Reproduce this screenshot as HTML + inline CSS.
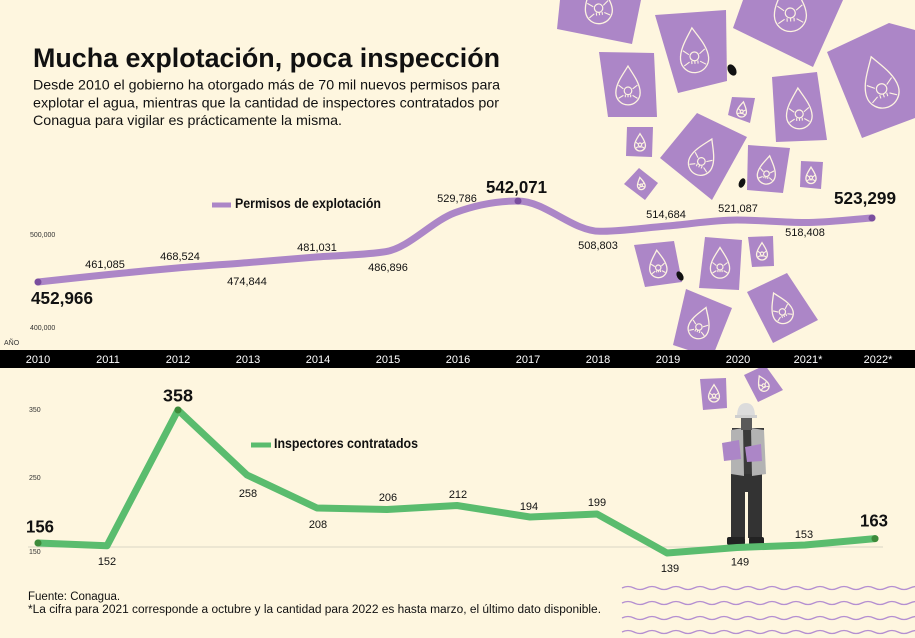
<!DOCTYPE html>
<html><head><meta charset="utf-8">
<style>
html,body{margin:0;padding:0;background:#fef6df;}
svg{display:block;}
text{font-family:"Liberation Sans",Arial,sans-serif;}
</style></head>
<body>
<svg width="915" height="638" viewBox="0 0 915 638" xmlns="http://www.w3.org/2000/svg">
<defs>
<g id="d" fill="none" stroke="#fdf3e0">
<path vector-effect="non-scaling-stroke" stroke-width="1.3" d="M0,-0.55 C0.12,-0.35 0.32,-0.1 0.32,0.15 A0.32,0.32 0 0 1 -0.32,0.15 C-0.32,-0.1 -0.12,-0.35 0,-0.55 Z"/>
<circle vector-effect="non-scaling-stroke" stroke-width="1.2" cx="0" cy="0.1" r="0.1"/>
<path vector-effect="non-scaling-stroke" stroke-width="1.1" d="M-0.07,0.2 L-0.07,0.27 M0,0.2 L0,0.27 M0.07,0.2 L0.07,0.27 M-0.25,-0.05 L-0.12,0.05 M0.25,-0.05 L0.12,0.05 M-0.25,0.3 L-0.12,0.22 M0.25,0.3 L0.12,0.22"/>
</g>
</defs>
<rect width="915" height="638" fill="#fef6df"/>

<!-- purple cards -->
<g fill="#ac86c7">
<polygon points="560,0 641,0 632,44 557,29"/>
<polygon points="655,15 726,10 727,81 678,93"/>
<polygon points="743,0 843,0 813,67 733,28"/>
<polygon points="827,52 889,23 915,30 915,118 862,138"/>
<polygon points="599,52 654,53 657,117 608,117"/>
<polygon points="772,77 817,72 827,140 776,142"/>
<polygon points="732,97 755,98 750,123 728,115"/>
<polygon points="627,127 653,127 652,157 626,156"/>
<polygon points="660,158 697,113 747,137 712,200"/>
<polygon points="748,145 790,148 783,193 747,190"/>
<polygon points="801,161 823,162 821,189 800,187"/>
<polygon points="624,184 639,168 658,183 645,200"/>
<polygon points="634,245 674,241 682,282 645,287"/>
<polygon points="705,237 742,240 739,290 699,288"/>
<polygon points="748,237 773,236 774,266 752,267"/>
<polygon points="686,289 732,308 712,358 673,345"/>
<polygon points="747,292 787,273 818,320 773,343"/>
<polygon points="700,379 726,378 727,408 703,410"/>
<polygon points="744,375 765,365 783,390 758,402"/>
</g>
<g>
<use href="#d" transform="translate(598,4) rotate(-8) scale(42)"/>
<use href="#d" transform="translate(694,52) rotate(-5) scale(44)"/>
<use href="#d" transform="translate(790,8) rotate(-3) scale(50)"/>
<use href="#d" transform="translate(880,84) rotate(-18) scale(52)"/>
<use href="#d" transform="translate(628,87) scale(38)"/>
<use href="#d" transform="translate(799,110) rotate(-3) scale(40)"/>
<use href="#d" transform="translate(742,110) rotate(10) scale(15)"/>
<use href="#d" transform="translate(640,143) scale(17)"/>
<use href="#d" transform="translate(703,158) rotate(25) scale(38)"/>
<use href="#d" transform="translate(767,171) rotate(10) scale(28)"/>
<use href="#d" transform="translate(811,176) scale(16)"/>
<use href="#d" transform="translate(641,184) rotate(-10) scale(12)"/>
<use href="#d" transform="translate(658,265) rotate(-5) scale(27)"/>
<use href="#d" transform="translate(720,264) scale(30)"/>
<use href="#d" transform="translate(762,252) scale(17)"/>
<use href="#d" transform="translate(700,324) rotate(20) scale(32)"/>
<use href="#d" transform="translate(781,309) rotate(-25) scale(32)"/>
<use href="#d" transform="translate(714,394) scale(17)"/>
<use href="#d" transform="translate(763,384) rotate(-25) scale(16)"/>
</g>
<g fill="#111">
<ellipse cx="732" cy="70" rx="4" ry="6" transform="rotate(-30 732 70)"/>
<ellipse cx="742" cy="183" rx="3" ry="5" transform="rotate(25 742 183)"/>
<ellipse cx="680" cy="276" rx="3" ry="5" transform="rotate(-30 680 276)"/>
</g>

<!-- title -->
<text x="33" y="67" font-size="26.5" font-weight="bold" fill="#111" textLength="467" lengthAdjust="spacingAndGlyphs">Mucha explotación, poca inspección</text>
<g font-size="14" fill="#111">
<text x="33" y="89.5" textLength="467" lengthAdjust="spacingAndGlyphs">Desde 2010 el gobierno ha otorgado más de 70 mil nuevos permisos para</text>
<text x="33" y="107.5" textLength="466" lengthAdjust="spacingAndGlyphs">explotar el agua, mientras que la cantidad de inspectores contratados por</text>
<text x="33" y="125" textLength="309" lengthAdjust="spacingAndGlyphs">Conagua para vigilar es prácticamente la misma.</text>
</g>

<!-- top chart -->
<g font-size="7" fill="#333">
<text x="30" y="237">500,000</text>
<text x="30" y="330">400,000</text>
<text x="4" y="345">AÑO</text>
</g>
<rect x="212" y="202.5" width="19" height="5" fill="#ac86c7"/>
<text x="235" y="208" font-size="13.5" font-weight="bold" fill="#111" textLength="146" lengthAdjust="spacingAndGlyphs">Permisos de explotación</text>
<path d="M38,282 C61.2,279.5 84.3,276.9 107.5,274.6 C130.7,272.3 153.8,270 177,268 C200.2,266 223.3,264.5 246.5,262.7 C269.7,260.9 292.8,258.8 316,257 C339.2,255.2 362.3,255.2 385.5,251.7 C408.7,248.2 431.8,221.3 455,212.7 C476,204.9 497,201 518,201 C545.3,201 572.7,231.3 600,231.3 C622.3,231.3 644.7,227.8 667,226 C690.3,224.1 713.7,220 737,220 C759.7,220 782.3,222.5 805,222.5 C827.3,222.5 849.7,219.5 872,218" fill="none" stroke="#ac86c7" stroke-width="7" stroke-linecap="round"/>
<circle cx="38" cy="282" r="3.5" fill="#7a4e9e"/>
<circle cx="518" cy="201" r="3.5" fill="#7a4e9e"/>
<circle cx="872" cy="218" r="3.5" fill="#7a4e9e"/>
<g font-size="11" fill="#111" text-anchor="middle">
<text x="105" y="268">461,085</text>
<text x="180" y="260">468,524</text>
<text x="247" y="285">474,844</text>
<text x="317" y="251">481,031</text>
<text x="388" y="271">486,896</text>
<text x="457" y="202">529,786</text>
<text x="598" y="249">508,803</text>
<text x="666" y="218">514,684</text>
<text x="738" y="212">521,087</text>
<text x="805" y="236">518,408</text>
</g>
<g font-size="17.5" font-weight="bold" fill="#111">
<text x="31" y="304" textLength="62" lengthAdjust="spacingAndGlyphs">452,966</text>
<text x="486" y="193" textLength="61" lengthAdjust="spacingAndGlyphs">542,071</text>
<text x="834" y="204" textLength="62" lengthAdjust="spacingAndGlyphs">523,299</text>
</g>

<!-- year bar -->
<rect x="0" y="350" width="915" height="18" fill="#000"/>
<g font-size="11" fill="#fff" text-anchor="middle">
<text x="38" y="363">2010</text>
<text x="108" y="363">2011</text>
<text x="178" y="363">2012</text>
<text x="248" y="363">2013</text>
<text x="318" y="363">2014</text>
<text x="388" y="363">2015</text>
<text x="458" y="363">2016</text>
<text x="528" y="363">2017</text>
<text x="598" y="363">2018</text>
<text x="668" y="363">2019</text>
<text x="738" y="363">2020</text>
<text x="808" y="363">2021*</text>
<text x="878" y="363">2022*</text>
</g>

<!-- bottom chart -->
<line x1="28" y1="547" x2="883" y2="547" stroke="#e2dccb" stroke-width="1.2"/>
<g font-size="7" fill="#333">
<text x="29" y="412">350</text>
<text x="29" y="480">250</text>
<text x="29" y="554">150</text>
</g>
<rect x="251" y="442.5" width="20" height="5" fill="#5abc6e"/>
<text x="274" y="448" font-size="13.5" font-weight="bold" fill="#111" textLength="144" lengthAdjust="spacingAndGlyphs">Inspectores contratados</text>

<!-- worker -->
<g>
<rect x="731" y="472" width="31" height="66" fill="#333"/>
<rect x="745" y="492" width="3" height="46" fill="#fef6df"/>
<rect x="727" y="537" width="18" height="8" rx="2" fill="#222"/>
<rect x="749" y="537" width="15" height="8" rx="2" fill="#222"/>
<rect x="732" y="428" width="32" height="46" fill="#3a3a3a"/>
<polygon points="731,430 743,428 744,476 731,474" fill="#b3b3b3"/>
<polygon points="751,428 764,430 766,474 752,476" fill="#b3b3b3"/>
<rect x="741" y="416" width="11" height="14" fill="#5a5a5a"/>
<path d="M737,417 Q737,403 746,403 Q755,403 755,417 Z" fill="#dcdcdc"/>
<rect x="735" y="415" width="22" height="3" fill="#cfcfcf"/>
<polygon points="722,443 739,440 741,459 724,461" fill="#ac86c7"/>
<polygon points="745,447 761,444 762,461 747,462" fill="#ac86c7"/>
</g>

<polyline points="38,543 107,545.7 178,410 247,475 317,508 387,509.5 457,505.5 530,517 597,514 667,553 737,547.5 805,545 875,538.6" fill="none" stroke="#5abc6e" stroke-width="7" stroke-linejoin="round" stroke-linecap="round"/>
<circle cx="38" cy="543" r="3.5" fill="#3d8a3a"/>
<circle cx="178" cy="410" r="3.5" fill="#3d8a3a"/>
<circle cx="875" cy="538.6" r="3.5" fill="#3d8a3a"/>
<g font-size="11" fill="#111" text-anchor="middle">
<text x="107" y="565">152</text>
<text x="248" y="497">258</text>
<text x="318" y="528">208</text>
<text x="388" y="501">206</text>
<text x="458" y="498">212</text>
<text x="529" y="510">194</text>
<text x="597" y="506">199</text>
<text x="670" y="572">139</text>
<text x="740" y="565.5">149</text>
<text x="804" y="538">153</text>
</g>
<g font-size="17.5" font-weight="bold" fill="#111">
<text x="26" y="532.5" textLength="28" lengthAdjust="spacingAndGlyphs">156</text>
<text x="163" y="401.5" textLength="30" lengthAdjust="spacingAndGlyphs">358</text>
<text x="860" y="526.5" textLength="28" lengthAdjust="spacingAndGlyphs">163</text>
</g>

<!-- waves -->
<g fill="none" stroke="#b48fd1" stroke-width="1.3">
<path d="M622,588 q6,-3 12,0 t12,0 t12,0 t12,0 t12,0 t12,0 t12,0 t12,0 t12,0 t12,0 t12,0 t12,0 t12,0 t12,0 t12,0 t12,0 t12,0 t12,0 t12,0 t12,0 t12,0 t12,0 t12,0 t12,0 t12,0"/>
<path d="M622,603 q6,-3 12,0 t12,0 t12,0 t12,0 t12,0 t12,0 t12,0 t12,0 t12,0 t12,0 t12,0 t12,0 t12,0 t12,0 t12,0 t12,0 t12,0 t12,0 t12,0 t12,0 t12,0 t12,0 t12,0 t12,0 t12,0"/>
<path d="M622,618 q6,-3 12,0 t12,0 t12,0 t12,0 t12,0 t12,0 t12,0 t12,0 t12,0 t12,0 t12,0 t12,0 t12,0 t12,0 t12,0 t12,0 t12,0 t12,0 t12,0 t12,0 t12,0 t12,0 t12,0 t12,0 t12,0"/>
<path d="M622,632 q6,-3 12,0 t12,0 t12,0 t12,0 t12,0 t12,0 t12,0 t12,0 t12,0 t12,0 t12,0 t12,0 t12,0 t12,0 t12,0 t12,0 t12,0 t12,0 t12,0 t12,0 t12,0 t12,0 t12,0 t12,0 t12,0"/>
</g>

<!-- footer -->
<g font-size="11.5" fill="#111">
<text x="28" y="600">Fuente: Conagua.</text>
<text x="28" y="613" textLength="573" lengthAdjust="spacingAndGlyphs">*La cifra para 2021 corresponde a octubre y la cantidad para 2022 es hasta marzo, el último dato disponible.</text>
</g>
</svg>
</body></html>
